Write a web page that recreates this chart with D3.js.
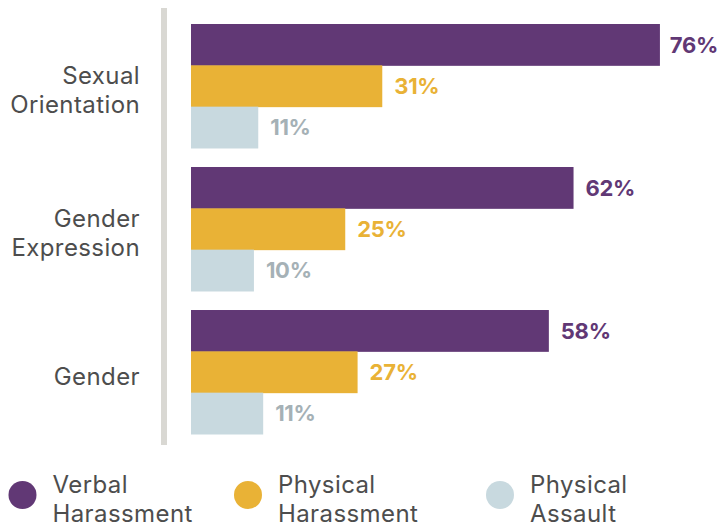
<!DOCTYPE html>
<html>
<head>
<meta charset="utf-8">
<script src="https://cdn.jsdelivr.net/npm/d3@7"></script>
<style>
  body { margin: 0; background: #fff; }
  text { font-family: 'Inter', 'Open Sans', sans-serif; }
</style>
</head>
<body>
<div id="container"></div>
<script>
const w = 720,
  h = 529;

// data
const categories = [['Sexual', 'Orientation'], ['Gender', 'Expression'], ['Gender']];
const seriesNames = [['Verbal', 'Harassment'], ['Physical', 'Harassment'], ['Physical', 'Assault']];
const verbal = [76, 62, 58];
const physicalHarassment = [31, 25, 27];
const physicalAssault = [10.9, 10.2, 11.7];
const labels = [['76%', '31%', '11%'], ['62%', '25%', '10%'], ['58%', '27%', '11%']];

const barColors = ['#613875', '#e9b236', '#c8d9df'];
const labelColors = ['#613875', '#e9b236', '#a5b1b6'];

const series = [verbal, physicalHarassment, physicalAssault];

const svg = d3.select('#container').append('svg').attr('width', w).attr('height', h);

const yScale = d3
  .scaleBand()
  .domain(d3.range(categories.length))
  .range([24, 434])
  .paddingInner(0.133)
  .paddingOuter(0);

const ySub = d3
  .scaleBand()
  .domain(d3.range(series.length))
  .range([0, yScale.bandwidth()]);

const xScale = d3.scaleLinear().domain([0, 100]).range([191, 191 + 617]);

// vertical divider
svg
  .append('rect')
  .attr('x', 161)
  .attr('y', 8)
  .attr('width', 6)
  .attr('height', 437)
  .attr('fill', '#d9d8d3');

const groups = svg
  .selectAll('g.group')
  .data(categories)
  .enter()
  .append('g')
  .attr('class', 'group')
  .attr('transform', (d, i) => 'translate(0,' + yScale(i) + ')');

groups.each(function (cat, gi) {
  const g = d3.select(this);
  series.forEach((s, si) => {
    g.append('rect')
      .attr('x', xScale(0))
      .attr('y', ySub(si))
      .attr('width', xScale(s[gi]) - xScale(0))
      .attr('height', ySub.bandwidth() + 0.5)
      .attr('fill', barColors[si]);
    const lbl = g
      .append('text')
      .text(labels[gi][si])
      .attr('y', ySub(si) + ySub.bandwidth() / 2)
      .attr('dy', '0.36em')
      .attr('fill', labelColors[si])
      .attr('font-size', 22)
      .attr('font-weight', 700)
      .attr('letter-spacing', -0.3);
    // keep the label inside the picture
    const len = lbl.node().getComputedTextLength();
    lbl.attr('x', Math.min(xScale(s[gi]) + 12, w - 2 - len));
  });

  // category label
  const mid = yScale.bandwidth() / 2 + 4;
  const lineH = 29;
  const t = g
    .append('text')
    .attr('text-anchor', 'end')
    .attr('fill', '#4d4d4d')
    .attr('font-size', 24)
    .attr('letter-spacing', 0.4);
  cat.forEach((line, li) => {
    t.append('tspan')
      .attr('x', 140)
      .attr('y', mid + (li - (cat.length - 1) / 2) * lineH)
      .attr('dy', '0.36em')
      .text(line);
  });
});

// legend
const legendX = [22.5, 248, 500];
const legend = svg
  .selectAll('g.legend')
  .data(seriesNames)
  .enter()
  .append('g')
  .attr('class', 'legend')
  .attr('transform', (d, i) => 'translate(' + legendX[i] + ',495)');

legend
  .append('circle')
  .attr('r', 14)
  .attr('fill', (d, i) => barColors[i]);

legend.each(function (d) {
  const t = d3
    .select(this)
    .append('text')
    .attr('fill', '#4d4d4d')
    .attr('font-size', 24)
    .attr('letter-spacing', 0.4);
  d.forEach((line, li) => {
    t.append('tspan')
      .attr('x', 30)
      .attr('y', li === 0 ? -2 : 27)
      .text(line);
  });
});
</script>
</body>
</html>
